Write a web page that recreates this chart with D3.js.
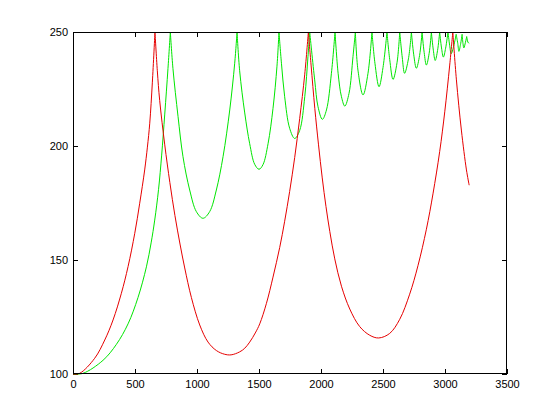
<!DOCTYPE html>
<html><head><meta charset="utf-8">
<script src="https://cdn.jsdelivr.net/npm/d3@7"></script>
<style>body{margin:0;background:#fff}svg{display:block}</style>
</head><body>
<svg id="chart" width="560" height="420"></svg>
<script>
const xTicks = [0, 500, 1000, 1500, 2000, 2500, 3000, 3500];
const yTicks = [100, 150, 200, 250];

const redX = [0, 54, 175, 256, 323, 390, 444, 498, 538, 578, 600, 619, 640, 661, 680, 699, 740, 781, 822, 863, 901, 955, 1022, 1089, 1156, 1220, 1275, 1344, 1385, 1425, 1470, 1506, 1560, 1613, 1667, 1707, 1747, 1788, 1828, 1869, 1898, 1920, 1950, 1980, 2010, 2040, 2071, 2111, 2165, 2232, 2312, 2393, 2465, 2554, 2635, 2715, 2782, 2850, 2903, 2957, 2998, 3038, 3063, 3092, 3132, 3173, 3195];
const redY = [100, 100.3, 106.9, 114.9, 123.7, 135.4, 147.1, 161.7, 174.9, 189.5, 199.5, 210, 228, 250, 233, 220, 200.5, 184, 169.5, 157, 146.5, 133.5, 121.5, 114, 110.3, 108.7, 108.4, 109.7, 111.3, 114, 118, 122, 131, 142.5, 155.5, 167, 180, 195, 212, 231.5, 250, 235.5, 216.5, 200.5, 186, 173.5, 162.5, 150.5, 138.5, 128.5, 120.8, 117, 115.8, 117.8, 124, 135, 147.5, 163.5, 179, 197.5, 215, 235.5, 250, 229, 207, 189.5, 182.8];

const greenX = [0, 81, 242, 350, 444, 524, 592, 630, 659, 690, 715, 740, 766, 785, 806, 847, 887, 941, 995, 1048, 1102, 1156, 1210, 1264, 1304, 1323, 1344, 1385, 1425, 1465, 1500, 1532, 1573, 1613, 1645, 1661, 1681, 1707, 1747, 1788, 1828, 1869, 1895, 1909, 1949, 1976, 2011, 2044, 2084, 2113, 2138, 2165, 2192, 2226, 2258, 2277, 2298, 2339, 2379, 2411, 2435, 2468, 2500, 2532, 2554, 2581, 2613, 2635, 2655, 2674, 2705, 2729, 2748, 2769, 2795, 2815, 2832, 2850, 2872, 2890, 2906, 2921, 2940, 2957, 2972, 2987, 3005, 3024, 3038, 3050, 3070, 3090, 3103, 3112, 3125, 3138, 3145, 3152, 3165, 3175, 3185, 3195];
const greenY = [100, 100.3, 106, 113, 122, 133.5, 147, 157.5, 167.5, 181, 196, 214, 234, 250, 234, 213, 195.3, 180.7, 171.2, 168.3, 171.2, 180.7, 195.3, 215.8, 236.3, 250, 233, 214.5, 201, 192, 189.8, 191.8, 201, 216.5, 235, 250, 236.3, 221.6, 207.8, 203.3, 206.8, 221.6, 239.2, 250, 229, 217.2, 211.7, 215.8, 231.9, 250, 231.9, 221.6, 217.5, 223.1, 239.2, 250, 233.3, 222.4, 231.9, 250, 236.3, 226, 234.4, 250, 238, 229.2, 236.5, 250, 239, 231.9, 238.2, 250, 240, 234.1, 239.7, 250, 241, 235.5, 240.6, 250, 242, 237.5, 241.9, 250, 243, 239, 242.9, 250, 244, 240.5, 243.8, 249, 245, 241.5, 244.5, 249, 245, 243, 245.5, 248, 245.5, 245];

const mLeft = 73, mRight = 507, mTop = 32, mBottom = 374;

const svg = d3.select("#chart");
const x = d3.scaleLinear().domain([0, 3500]).range([mLeft, mRight]);
const y = d3.scaleLinear().domain([100, 250]).range([mBottom, mTop]);

svg.append("defs").append("clipPath").attr("id", "plot")
  .append("rect").attr("x", mLeft).attr("y", mTop - 1).attr("width", mRight - mLeft).attr("height", mBottom - mTop + 2);

const font = "'Liberation Sans', Arial, sans-serif";

function styleAxis(g, labels) {
  g.select(".domain").remove();
  g.selectAll(".tick line").attr("stroke", "#000").attr("shape-rendering", "crispEdges");
  g.selectAll(".tick text").attr("fill", "#000").style("font-family", font).style("font-size", "11px");
  if (!labels) g.selectAll(".tick text").remove();
}

svg.append("g").attr("transform", `translate(0,${mBottom})`)
  .call(d3.axisBottom(x).tickValues(xTicks).tickSizeInner(-5).tickSizeOuter(0).tickPadding(6).tickFormat(d3.format("d")))
  .call(g => styleAxis(g, true));
svg.append("g").attr("transform", `translate(0,${mTop})`)
  .call(d3.axisTop(x).tickValues(xTicks).tickSizeInner(-5).tickSizeOuter(0))
  .call(g => styleAxis(g, false));
svg.append("g").attr("transform", `translate(${mLeft},0)`)
  .call(d3.axisLeft(y).tickValues(yTicks).tickSizeInner(-5).tickSizeOuter(0).tickPadding(5).tickFormat(d3.format("d")))
  .call(g => styleAxis(g, true));
svg.append("g").attr("transform", `translate(${mRight},0)`)
  .call(d3.axisRight(y).tickValues(yTicks).tickSizeInner(-5).tickSizeOuter(0))
  .call(g => styleAxis(g, false));

// split a series into pieces at its local maxima (cusps), so each piece is drawn smoothly
function pieces(xs, ys) {
  const out = [];
  let cur = [[xs[0], ys[0]]];
  for (let i = 1; i < xs.length; i++) {
    cur.push([xs[i], ys[i]]);
    const isPeak = i < xs.length - 1 && ys[i] > ys[i - 1] && ys[i] > ys[i + 1];
    if (isPeak) { out.push(cur); cur = [[xs[i], ys[i]]]; }
  }
  if (cur.length > 1) out.push(cur);
  return out;
}

const line = d3.line().x(d => x(d[0])).y(d => y(d[1])).curve(d3.curveCatmullRom.alpha(0.5));

const plot = svg.append("g").attr("clip-path", "url(#plot)");
const gPath = pieces(greenX, greenY).map(p => line(p)).join("");
const rPath = pieces(redX, redY).map(p => line(p)).join("");
plot.append("path").attr("d", gPath).attr("fill", "none").attr("stroke", "#00e600").attr("stroke-width", 1);
plot.append("path").attr("d", rPath).attr("fill", "none").attr("stroke", "#e60000").attr("stroke-width", 1);

svg.append("rect").attr("x", mLeft + 0.5).attr("y", mTop + 0.5).attr("width", mRight - mLeft - 1).attr("height", mBottom - mTop - 1)
  .attr("fill", "none").attr("stroke", "#000").attr("stroke-width", 1);
</script>
</body></html>
